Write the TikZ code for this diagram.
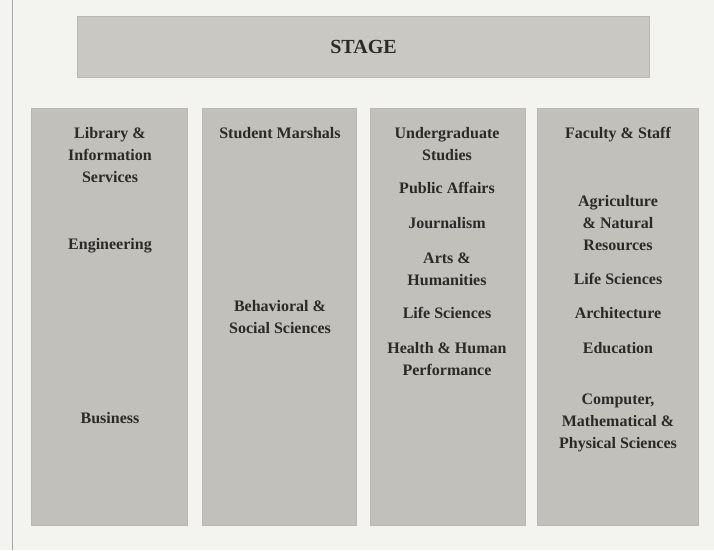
\documentclass[tikz,border=0pt]{standalone}
\usepackage{fontspec}
\setmainfont{Liberation Serif}
\usetikzlibrary{positioning}
\definecolor{hallPaper}{HTML}{F3F3EF}
\definecolor{hallBlock}{HTML}{C1C0BB}
\definecolor{hallStage}{HTML}{C9C8C3}
\definecolor{hallEdge}{HTML}{B8B7B2}
\definecolor{hallInk}{HTML}{2A2A28}
\begin{document}
\begin{tikzpicture}[x=0.75pt,y=-0.75pt,
      blk/.style={fill=hallBlock, draw=hallEdge, line width=0.8pt,
                  anchor=north west, inner sep=0pt,
                  minimum width=#1*0.75pt, minimum height=417*0.75pt},
      lbl/.style={text=hallInk, align=center, inner sep=0pt,
                  font=\fontsize{12}{16.2}\selectfont\bfseries},
      every node/.style={align=center}]
    \fill[hallPaper] (0,0) rectangle (714,550);
    \useasboundingbox (0,0) rectangle (714,550);
    \draw[gray!70, line width=0.6pt] (12,0) -- (12,550);
    % stage
    \node[fill=hallStage, draw=hallEdge, line width=0.8pt, anchor=north west,
          inner sep=0pt, minimum width=572*0.75pt, minimum height=61*0.75pt]
          (stage) at (77,16) {};
    \node[lbl, font=\fontsize{15}{18}\selectfont\bfseries] (stagetxt)
          at (stage.center) {STAGE};
    % seating blocks
    \node[blk=156] (b1) at (31,108)  {};
    \node[blk=154] (b2) at (202,108) {};
    \node[blk=155] (b3) at (370,108) {};
    \node[blk=161] (b4) at (537,108) {};
    % block 1
    \node[lbl] (lib)   at (110,155) {Library \&\\Information\\Services};
    \node[lbl] (eng)   at (110,246) {Engineering};
    \node[lbl] (bus)   at (110,418) {Business};
    % block 2
    \node[lbl] (marsh) at (280,133) {Student Marshals};
    \node[lbl] (behav) at (280,317) {Behavioral \&\\Social Sciences};
    % block 3
    \node[lbl] (ugrad) at (447,144) {Undergraduate\\Studies};
    \node[lbl] (pub)   at (447,188) {Public Affairs};
    \node[lbl] (jour)  at (447,223) {Journalism};
    \node[lbl] (arts)  at (447,269) {Arts \&\\Humanities};
    \node[lbl] (life)  at (447,313) {Life Sciences};
    \node[lbl] (hhp)   at (447,359) {Health \& Human\\Performance};
    % block 4
    \node[lbl] (fac)   at (618,135) {Faculty \& Staff};
    \node[lbl] (agri)  at (618,223) {Agriculture\\\& Natural\\Resources};
    \node[lbl] (lifeb) at (618,279) {Life Sciences};
    \node[lbl] (arch)  at (618,313) {Architecture};
    \node[lbl] (edu)   at (618,348) {Education};
    \node[lbl] (comp)  at (618,423) {Computer,\\Mathematical \&\\Physical Sciences};
  \end{tikzpicture}
\end{document}
